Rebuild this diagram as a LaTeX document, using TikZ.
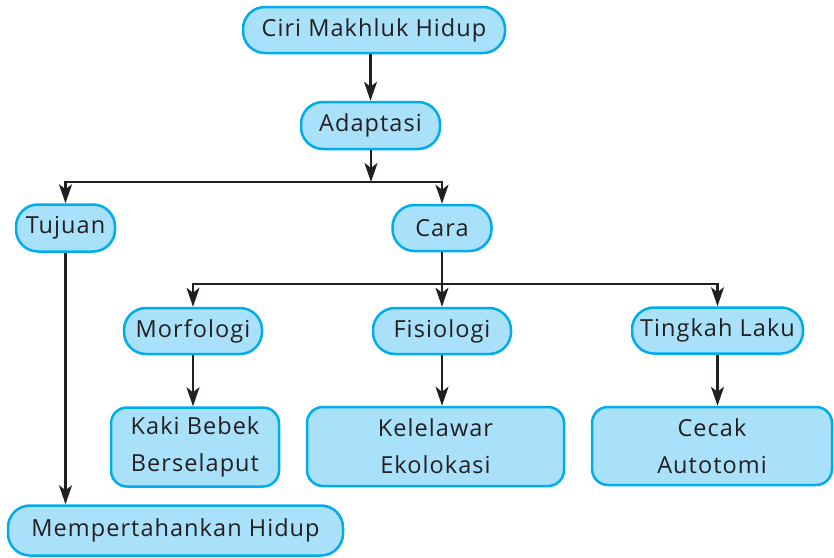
\documentclass[tikz,border=0pt]{standalone}
\usepackage{fontspec}
\setmainfont{Open Sans}[LetterSpace=4.5]
\usetikzlibrary{arrows.meta}

\definecolor{boxfill}{RGB}{170,225,250}
\definecolor{boxline}{RGB}{0,172,236}
\definecolor{ink}{RGB}{35,31,32}

\tikzset{
  box/.style={draw=boxline, fill=boxfill, line width=2.5pt, rounded corners=22pt,
    inner sep=0pt, text=ink, font=\fontsize{23.5}{28}\selectfont},
  tallbox/.style={box, rounded corners=16pt, align=center, font=\fontsize{23.5}{37}\selectfont},
  link/.style={draw=ink, line width=2.5pt, -{Stealth[length=19pt, width=13pt, inset=5pt]}}
}

\begin{document}
\begin{tikzpicture}[x=1pt, y=-1pt]
    \useasboundingbox (0,0) rectangle (834,557);

    % top levels
    \node[box, minimum width=262pt, minimum height=46pt] (ciri) at (374,30) {Ciri Makhluk Hidup};
    \node[box, minimum width=139pt, minimum height=47pt] (adapt) at (370.5,125.5) {Adaptasi};
    \node[box, minimum width=99pt, minimum height=47pt] (tujuan) at (65.5,228) {Tujuan};
    \node[box, minimum width=99pt, minimum height=46pt] (cara) at (442,228) {Cara};

    % ways of adapting
    \node[box, minimum width=138pt, minimum height=46pt] (morfo) at (193,331) {Morfologi};
    \node[box, minimum width=138pt, minimum height=46pt] (fisio) at (442,331) {Fisiologi};
    \node[box, minimum width=171pt, minimum height=46pt] (tingkah) at (717.5,330.5) {Tingkah Laku};

    % examples
    \node[tallbox, minimum width=168pt, minimum height=79pt] (kaki) at (195,447) {Kaki Bebek\\Berselaput};
    \node[tallbox, minimum width=257pt, minimum height=79pt] (kelel) at (435.5,446.5) {Kelelawar\\Ekolokasi};
    \node[tallbox, minimum width=240pt, minimum height=78pt] (cecak) at (712,446) {Cecak\\Autotomi};
    \node[box, minimum width=335pt, minimum height=50pt] (tahan) at (175.5,530.5) {Mempertahankan Hidup};

    % branch points
    \coordinate (bar1) at (371,182);
    \coordinate (bar2) at (442,284);

    % connectors
    \draw[link] (adapt |- ciri.south) -- (adapt);
    \draw[link] (adapt.south -| bar1) -- (bar1);
    \draw[link] (bar1) -| (tujuan);
    \draw[link] (bar1) -| (cara);
    \draw[link] (cara) -- (fisio);
    \draw[link] (bar2) -| (morfo);
    \draw[link] (bar2) -| (tingkah);
    \draw[link] (tujuan.south) -- (tujuan.south |- tahan.north);
    \draw[link] (morfo.south) -- (morfo.south |- kaki.north);
    \draw[link] (fisio.south) -- (fisio.south |- kelel.north);
    \draw[link] (tingkah.south) -- (tingkah.south |- cecak.north);
\end{tikzpicture}
\end{document}
